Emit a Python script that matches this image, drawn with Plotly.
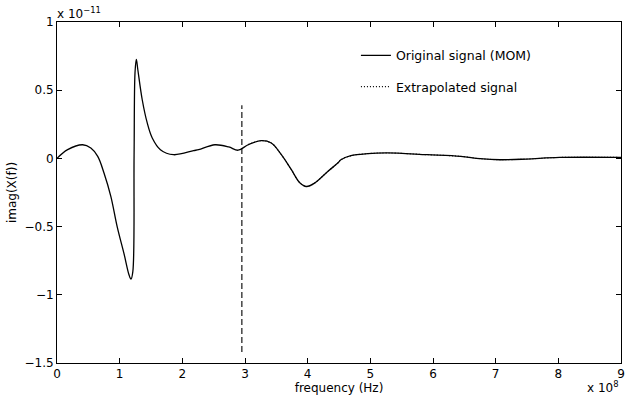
import plotly.graph_objects as go

# Imaginary part of the spectrum X(f); frequency in units of 1e8 Hz, values in units of 1e-11
freq_e8 = [0, 0.17, 0.41, 0.54, 0.65, 0.75, 0.86, 0.96, 1.07, 1.15, 1.18, 1.21, 1.23, 1.245,
           1.266, 1.29, 1.36, 1.44, 1.52, 1.65, 1.86, 2.18, 2.26, 2.52, 2.74, 2.89, 3.05,
           3.26, 3.42, 3.58, 3.74, 3.87, 3.98, 4.11, 4.32, 4.48, 4.53, 4.69, 4.96, 5.27,
           5.91, 6.44, 6.75, 7.07, 7.49, 8.02, 9.0]
imag_mom = [0.0, 0.064, 0.10, 0.076, 0.015, -0.107, -0.28, -0.5, -0.70, -0.855, -0.885, -0.83,
            0.015, 0.63, 0.726, 0.65, 0.43, 0.26, 0.15, 0.064, 0.027, 0.057, 0.064, 0.10,
            0.084, 0.06, 0.10, 0.13, 0.113, 0.027, -0.083, -0.176, -0.206, -0.181, -0.096,
            -0.034, -0.01, 0.02, 0.035, 0.04, 0.027, 0.015, -0.002, -0.01, -0.005, 0.007, 0.007]

# Extrapolation starts at the end of the MOM window
extrap_start = 2.95
marker_y = [-1.42, 0.39]

x_ticks = [0, 1, 2, 3, 4, 5, 6, 7, 8, 9]
y_ticks = [-1.5, -1, -0.5, 0, 0.5, 1]
y_tick_text = ["\u22121.5", "\u22121", "\u22120.5", "0", "0.5", "1"]

ext_x = [f for f in freq_e8 if f >= extrap_start]
ext_y = [v for f, v in zip(freq_e8, imag_mom) if f >= extrap_start]

FONT = "DejaVu Sans, Verdana, sans-serif"

fig = go.Figure()
fig.add_trace(go.Scatter(
    x=freq_e8, y=imag_mom, mode="lines", name="Original signal (MOM)",
    line=dict(color="black", width=1.3, shape="spline", smoothing=1.0),
    legendgroup="a",
))
fig.add_trace(go.Scatter(
    x=ext_x, y=ext_y, mode="lines", name="Extrapolated signal",
    line=dict(color="black", width=1.1, dash="1px,2px", shape="spline", smoothing=1.0),
    legendgroup="b",
))
# Boundary between the computed and extrapolated bands
fig.add_trace(go.Scatter(
    x=[extrap_start, extrap_start], y=marker_y, mode="lines", showlegend=False,
    line=dict(color="black", width=1.1, dash="6px,3px"),
))

fig.update_layout(
    width=629, height=397,
    margin=dict(l=57, r=4, t=22, b=34),
    paper_bgcolor="white", plot_bgcolor="white",
    font=dict(family=FONT, size=12, color="black"),
    showlegend=True,
    legend=dict(
        x=0.53, y=0.945, xanchor="left", yanchor="top",
        bgcolor="rgba(0,0,0,0)", borderwidth=0,
        font=dict(family=FONT, size=12.5, color="black"),
        tracegroupgap=12, itemwidth=30,
    ),
    xaxis=dict(
        range=[0, 9], tickvals=x_ticks, ticktext=[str(t) for t in x_ticks],
        ticks="inside", ticklen=5, tickcolor="black", mirror="allticks",
        showline=True, linecolor="black", linewidth=1, showgrid=False, zeroline=False,
        title=dict(text="frequency (Hz)", standoff=1, font=dict(size=12)),
        tickfont=dict(size=12),
    ),
    yaxis=dict(
        range=[-1.5, 1], tickvals=y_ticks, ticktext=y_tick_text,
        ticks="inside", ticklen=5, tickcolor="black", mirror="allticks",
        showline=True, linecolor="black", linewidth=1, showgrid=False, zeroline=False,
        title=dict(text="imag(X(f))", standoff=5, font=dict(size=12)),
        tickfont=dict(size=12),
    ),
)

fig.add_annotation(
    text="x 10<sup>\u221211</sup>", xref="paper", yref="paper", x=0, y=1,
    xanchor="left", yanchor="bottom", showarrow=False, font=dict(size=12),
    xshift=-2, yshift=-1,
)
fig.add_annotation(
    text="x 10<sup>8</sup>", xref="paper", yref="paper", x=1, y=0,
    xanchor="right", yanchor="top", showarrow=False, font=dict(size=12),
    yshift=-14,
)

fig.write_html("out.html")
